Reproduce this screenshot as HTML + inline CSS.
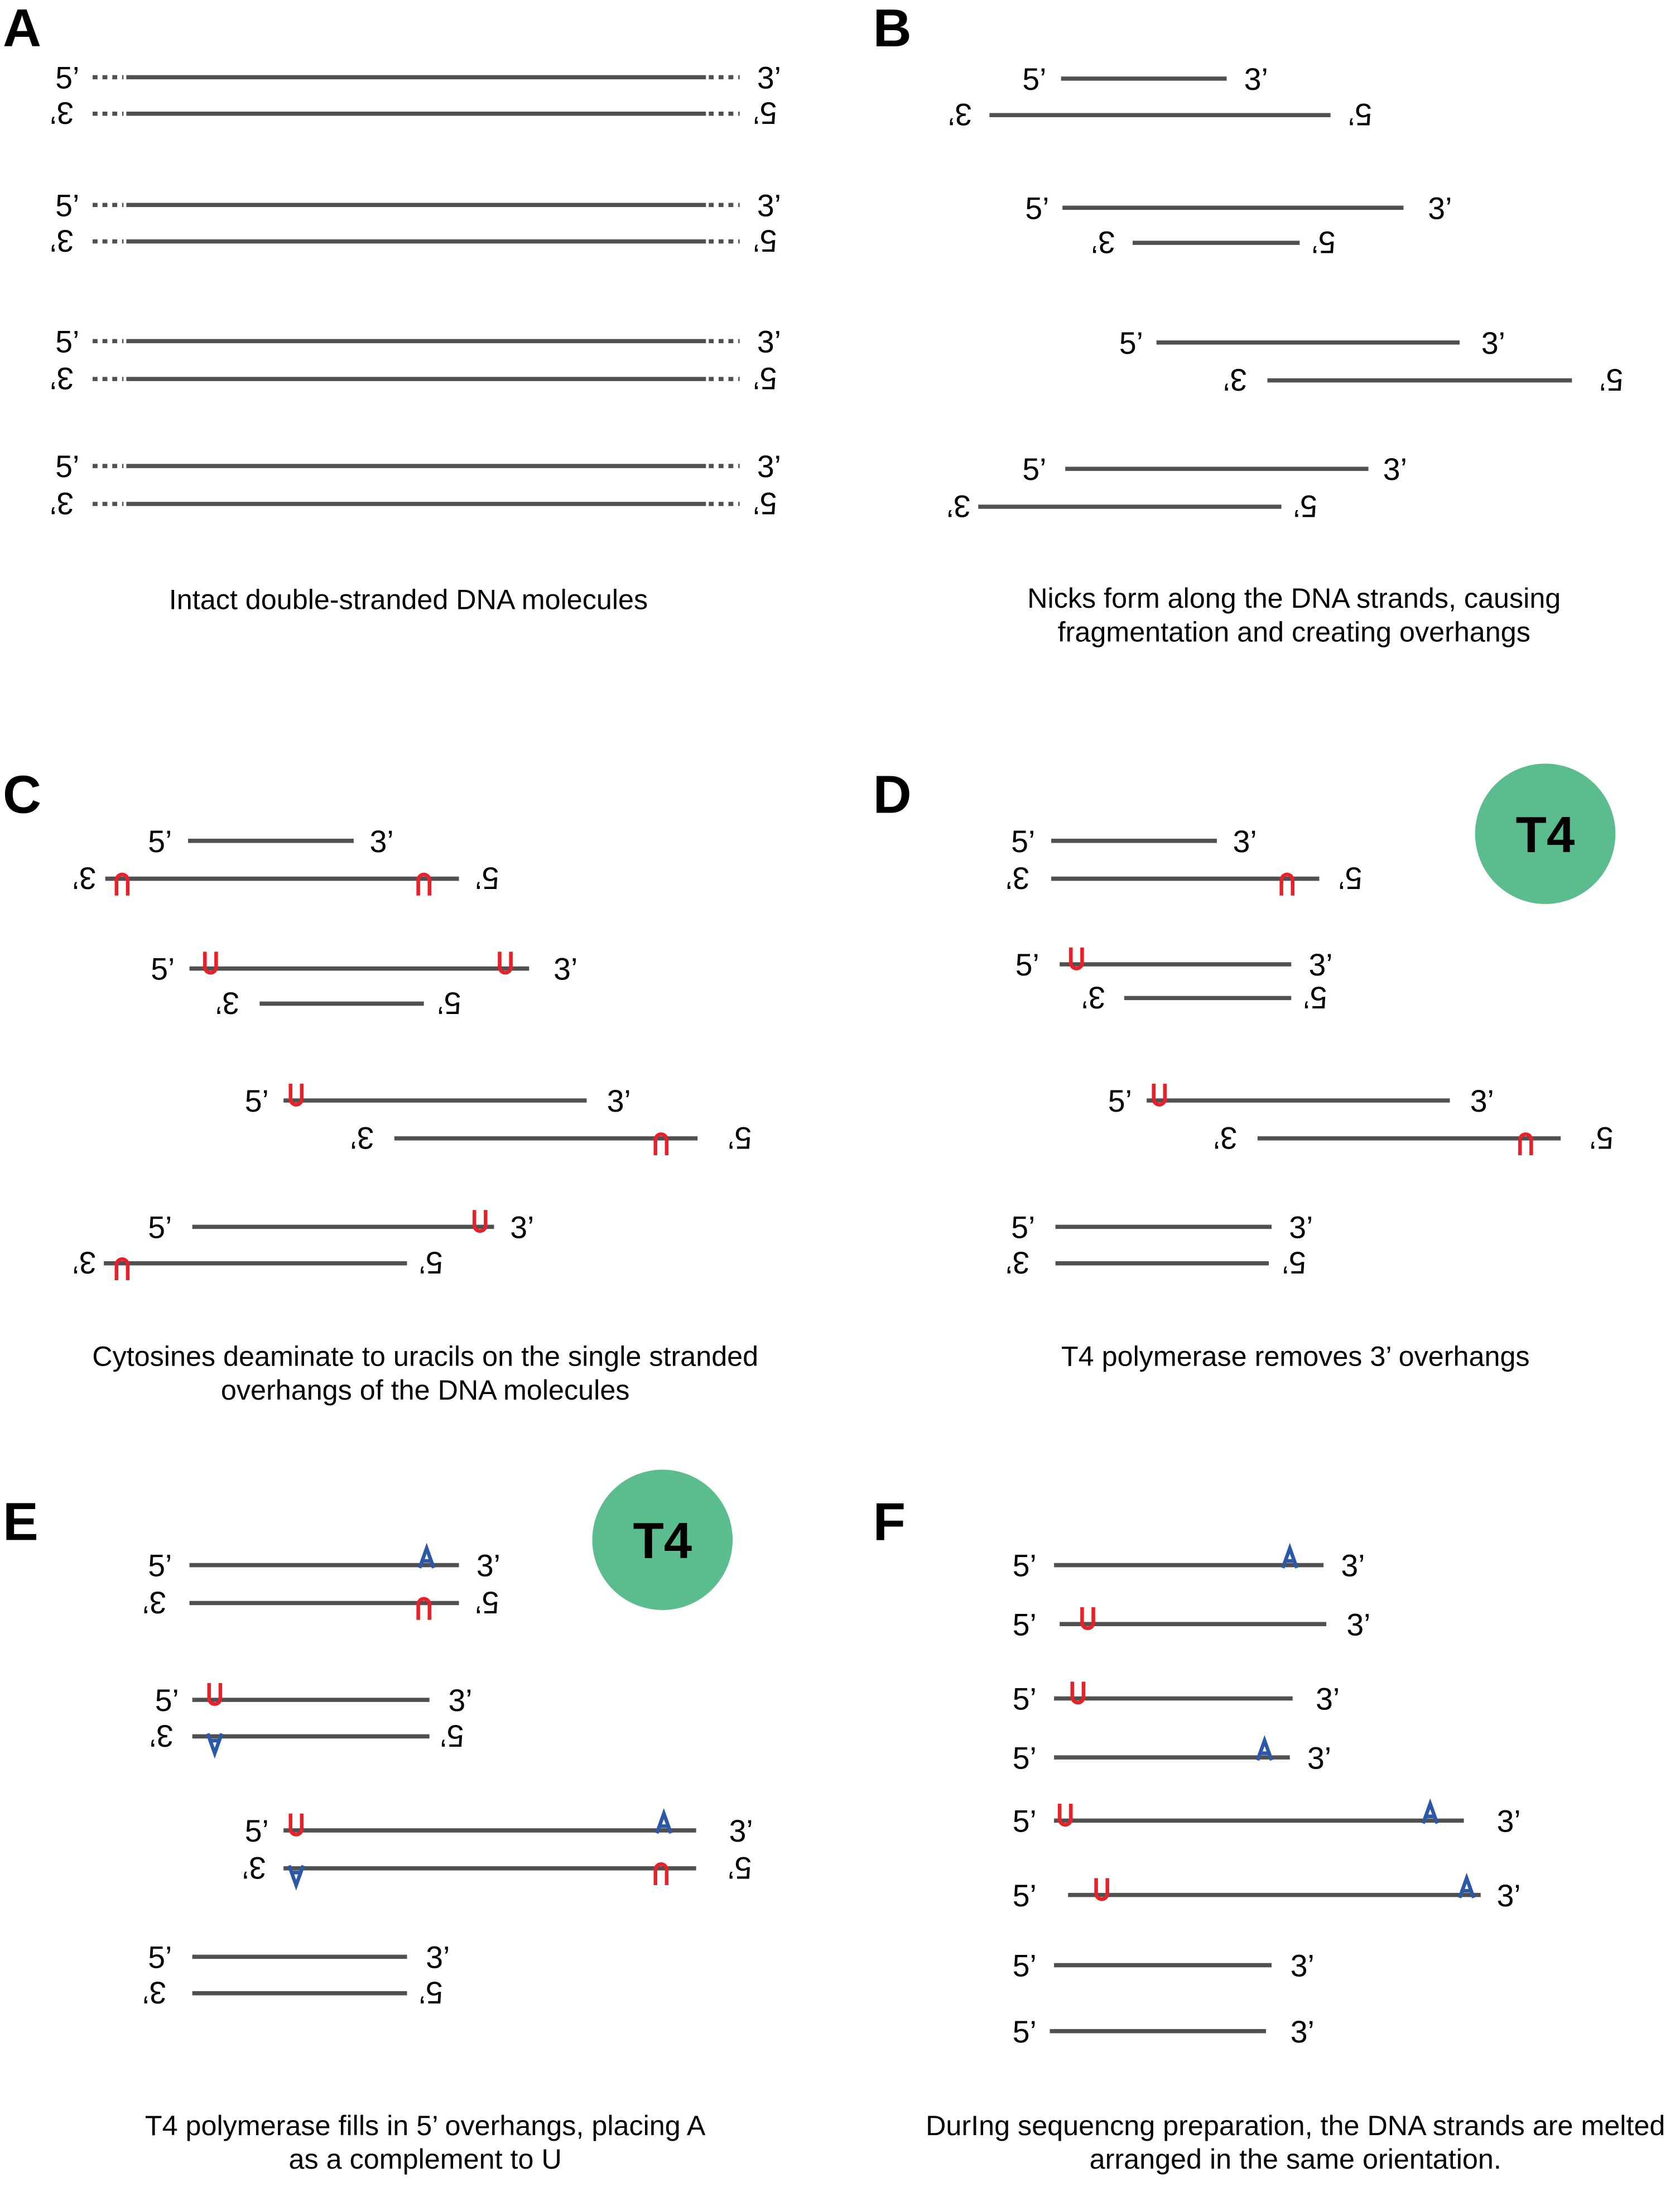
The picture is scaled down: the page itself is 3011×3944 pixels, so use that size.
<!DOCTYPE html>
<html><head><meta charset="utf-8">
<style>
html,body{margin:0;padding:0;background:#fff;}
svg{display:block;}
text{font-family:"Liberation Sans",Arial,sans-serif;fill:#000;}
</style></head>
<body>
<svg id="fig" width="3011" height="3944" viewBox="0 0 1197 1568" preserveAspectRatio="none" xmlns="http://www.w3.org/2000/svg"></svg>
<script>
const NS='http://www.w3.org/2000/svg';
const svg=document.getElementById('fig');
const LINE='#505050', RED='#e8202a', BLUE='#2b59a8';

// strands: [x1,x2,y,labelLeftX,labelRightX,flipped, marks:[[x,'U'|'A'],...], dotted]
const panelA=[
 [90,503,55,48,548,false,[],true],[90,503,81,44,545,true,[],true],
 [90,503,146,48,548,false,[],true],[90,503,172,44,545,true,[],true],
 [90,503,243,48,548,false,[],true],[90,503,270,44,545,true,[],true],
 [90,503,332,48,548,false,[],true],[90,503,359,44,545,true,[],true]];
const panelB=[
 [756,874,56,737,895,false,[]],[705,948,82,684,969,true,[]],
 [757,1000,148,739,1026,false,[]],[807,926,173,786,943,true,[]],
 [824,1040,244,806,1064,false,[]],[903,1120,271,880,1148,true,[]],
 [759,975,334,737,994,false,[]],[697,913,361,683,930,true,[]]];
const panelC=[
 [134,252,599,114,272,false,[]],[75,327,626,60,347,true,[[87,'U'],[302,'U']]],
 [135,377,690,116,403,false,[[150,'U'],[360,'U']]],[185,302,715,162,320,true,[]],
 [202,418,784,183,441,false,[[211,'U']]],[281,497,811,258,527,true,[[471,'U']]],
 [137,352,874,114,372,false,[[342,'U']]],[74,290,900,60,307,true,[[87,'U']]]];
const panelD=[
 [749,867,599,729,887,false,[]],[749,940,626,725,962,true,[[917,'U']]],
 [755,920,687,732,941,false,[[767,'U']]],[801,920,711,779,937,true,[]],
 [817,1033,784,798,1056,false,[[826,'U']]],[896,1112,811,873,1141,true,[[1087,'U']]],
 [752,906,874,729,927,false,[]],[752,904,900,725,922,true,[]]];
const panelE=[
 [135,327,1115,114,348,false,[[304,'A']]],[135,327,1142,110,347,true,[[302,'U']]],
 [137,306,1211,119,328,false,[[153,'U']]],[137,306,1237,115,322,true,[[153,'A']]],
 [202,496,1304,183,528,false,[[211,'U'],[473,'A']]],[202,496,1331,181,527,true,[[211,'A'],[471,'U']]],
 [137,290,1394,114,312,false,[]],[137,290,1420,110,307,true,[]]];
const panelF=[
 [751,943,1115,730,964,false,[[919,'A']]],
 [755,945,1157,730,968,false,[[775,'U']]],
 [751,921,1210,730,946,false,[[768,'U']]],
 [751,919,1252,730,940,false,[[901,'A']]],
 [751,1043,1297,730,1075,false,[[759,'U'],[1019,'A']]],
 [761,1055,1350,730,1075,false,[[785,'U'],[1045,'A']]],
 [751,906,1400,730,928,false,[]],
 [748,902,1447,730,928,false,[]]];
const panelLetters=[['A',2,33],['B',622,33],['C',2,579],['D',622,579],['E',2,1097],['F',622,1097]];
const captions=[
 [291,433,'Intact double-stranded DNA molecules'],
 [922,432,'Nicks form along the DNA strands, causing'],[922,456,'fragmentation and creating overhangs'],
 [303,972,'Cytosines deaminate to uracils on the single stranded'],[303,996,'overhangs of the DNA molecules'],
 [923,972,'T4 polymerase removes 3\u2019 overhangs'],
 [303,1520,'T4 polymerase fills in 5\u2019 overhangs, placing A'],[303,1544,'as a complement to U'],
 [923,1520,'DurIng sequencng preparation, the DNA strands are melted'],[923,1544,'arranged in the same orientation.']];
const circles=[[1101,594],[472,1097]];

function el(tag,attrs,parent){const e=document.createElementNS(NS,tag);for(const k in attrs)e.setAttribute(k,attrs[k]);(parent||svg).appendChild(e);return e;}

function label(x,y,str,flip,g){
  const t=el('text',{x:x,y:y+8,'font-size':22,'text-anchor':'middle'},g);
  if(flip)t.setAttribute('transform','rotate(180 '+x+' '+y+')');
  t.textContent=str;
  
  
}
function mark(x,y,type,flip,g){
  const s=flip?-1:1;
  let d;
  if(type==='U'){
    d='M'+(x-4)+' '+(y-12*s)+' L'+(x-4)+' '+(y-1*s)+' A4 4 0 0 '+(flip?1:0)+' '+(x+4)+' '+(y-1*s)+' L'+(x+4)+' '+(y-12*s);
  }else{
    d='M'+(x-5)+' '+(y+2*s)+' L'+x+' '+(y-12*s)+' L'+(x+5)+' '+(y+2*s)+' M'+(x-3)+' '+(y-3*s)+' L'+(x+3)+' '+(y-3*s);
  }
  const p=el('path',{d:d,fill:'none',stroke:type==='U'?RED:BLUE,'stroke-width':2.6},g);
  
  
}
function strand(s,g){
  const [x1,x2,y,lx,rx,flip,marks,dotted]=s;
  const ln=el('line',{x1:x1,x2:x2,y1:y,y2:y,stroke:LINE,'stroke-width':3},g);
  
  
  if(dotted){
    [[66,88],[505,527]].forEach(([a,b])=>{
      const d=el('line',{x1:a,x2:b,y1:y,y2:y,stroke:LINE,'stroke-width':3,'stroke-dasharray':'3.5 3.5'},g);
      
      
    });
  }
  label(lx,y,flip?'3\u2019':'5\u2019',flip,g);
  label(rx,y,flip?'5\u2019':'3\u2019',flip,g);
  marks.forEach(m=>mark(m[0],y,m[1],flip,g));
}
const panels=[['panel-a',panelA],['panel-b',panelB],['panel-c',panelC],['panel-d',panelD],['panel-e',panelE],['panel-f',panelF]];
panels.forEach(([n,arr])=>{
  const g=el('g',{});
  
  
  arr.forEach(s=>strand(s,g));
});
panelLetters.forEach(([c,x,y])=>{
  const t=el('text',{x:x,y:y,'font-size':38,'font-weight':'bold'});
  t.textContent=c;
  
  
});
captions.forEach(([x,y,s])=>{
  const t=el('text',{x:x,y:y+1,'font-size':20,'text-anchor':'middle'});
  t.textContent=s;
  
  
});
circles.forEach(([x,y])=>{
  const c=el('circle',{cx:x,cy:y,r:50,fill:'#5bbd8d'});
  
  
  const t=el('text',{x:x,y:y+13,'font-size':36,'font-weight':'bold','text-anchor':'middle'});
  t.textContent='T4';
  
  
});
</script>
</body></html>
